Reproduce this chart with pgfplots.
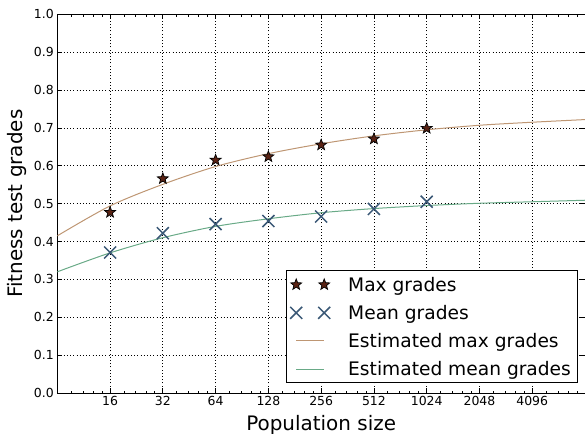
\documentclass[border=0pt]{standalone}
\usepackage{fontspec}
\setmainfont{DejaVu Sans}
\usepackage{pgfplots}
\pgfplotsset{compat=1.18}
\definecolor{starfill}{RGB}{90,35,20}
\definecolor{meanx}{RGB}{58,88,118}
\definecolor{maxline}{RGB}{190,150,115}
\definecolor{meanline}{RGB}{105,170,135}
\pgfdeclareplotmark{fstar}{%
  \pgfpathmoveto{\pgfpointpolar{90}{\pgfplotmarksize}}%
  \pgfpathlineto{\pgfpointpolar{126}{0.42\pgfplotmarksize}}%
  \pgfpathlineto{\pgfpointpolar{162}{\pgfplotmarksize}}%
  \pgfpathlineto{\pgfpointpolar{198}{0.42\pgfplotmarksize}}%
  \pgfpathlineto{\pgfpointpolar{234}{\pgfplotmarksize}}%
  \pgfpathlineto{\pgfpointpolar{270}{0.42\pgfplotmarksize}}%
  \pgfpathlineto{\pgfpointpolar{306}{\pgfplotmarksize}}%
  \pgfpathlineto{\pgfpointpolar{342}{0.42\pgfplotmarksize}}%
  \pgfpathlineto{\pgfpointpolar{18}{\pgfplotmarksize}}%
  \pgfpathlineto{\pgfpointpolar{54}{0.42\pgfplotmarksize}}%
  \pgfpathclose
  \pgfusepathqfillstroke}
\pgfplotsset{
  legtwo/.style={legend image code/.code={\draw[##1] plot coordinates {(0bp,0bp) (28bp,0bp)};}},
  maxstyle/.style={only marks, mark=fstar, mark size=5.8bp, line width=0.7bp, mark options={fill=starfill, draw=black, solid}},
  meanstyle/.style={only marks, mark=x, mark size=8.5bp, line width=1.5bp, color=meanx, mark options={solid}},
  emaxstyle/.style={no marks, color=maxline, line width=1bp},
  emeanstyle/.style={no marks, color=meanline, line width=1bp},
}
\pgfplotstableread{
x y
16 0.477
32 0.566
64 0.615
128 0.624
256 0.655
512 0.671
1024 0.699
}\maxdata
\pgfplotstableread{
x y
16 0.371
32 0.422
64 0.446
128 0.454
256 0.466
512 0.486
1024 0.505
}\meandata
\pgfplotstableread{
x y
8 0.415
16 0.494
32 0.551
64 0.598
128 0.632
256 0.658
512 0.679
1024 0.695
2048 0.707
4096 0.715
8192 0.722
}\emaxdata
\pgfplotstableread{
x y
8 0.320
16 0.370
32 0.410
64 0.440
128 0.460
256 0.476
512 0.487
1024 0.495
2048 0.501
4096 0.505
8192 0.509
}\emeandata
\begin{document}
\begin{tikzpicture}
\begin{axis}[
  scale only axis, width=527.7bp, height=378.7bp,
  xmode=log, log basis x=2, xmin=8, xmax=8192, ymin=0, ymax=1,
  xtick={16,32,64,128,256,512,1024,2048,4096},
  xticklabels={16,32,64,128,256,512,1024,2048,4096},
  minor xtick={},
  extra x ticks={9.6,11.2,12.8,14.4,19.2,22.4,25.6,28.8,38.4,44.8,51.2,57.6,76.8,89.6,102.4,115.2,153.6,179.2,204.8,230.4,307.2,358.4,409.6,460.8,614.4,716.8,819.2,921.6,1228.8,1433.6,1638.4,1843.2,2457.6,2867.2,3276.8,3686.4,4915.2,5734.4,6553.6,7372.8},
  extra x tick labels={},
  extra x tick style={grid=none, major tick length=2.5bp},
  ytick={0,0.1,0.2,0.3,0.4,0.5,0.6,0.7,0.8,0.9,1.0},
  yticklabel style={/pgf/number format/.cd, fixed, fixed zerofill, precision=1, assume math mode=true},
  tick label style={font=\fontsize{12.5}{14}\selectfont},
  grid=major, major grid style={black, line width=0.7bp, dash pattern=on 1bp off 2.2bp},
  tick align=inside, major tick length=5bp,
  every tick/.style={black, line width=0.7bp},
  axis line style={line width=1bp},
  xlabel={Population size}, ylabel={Fitness test grades},
  label style={font=\fontsize{20}{24}\selectfont},
  xlabel style={yshift=-2.5bp},
  legend style={at={(1,0)}, anchor=south east, xshift=-7.7bp, yshift=9.7bp, draw=black, line width=0.8bp,
    font=\fontsize{18.7}{22}\selectfont, inner xsep=4bp, inner ysep=4bp, row sep=8.5bp,
    /tikz/every odd column/.append style={column sep=16bp}},
  legend cell align=left,
]
\addlegendimage{maxstyle, legtwo}\addlegendentry{Max grades}
\addlegendimage{meanstyle, legtwo}\addlegendentry{Mean grades}
\addlegendimage{emaxstyle, legtwo}\addlegendentry{Estimated max grades}
\addlegendimage{emeanstyle, legtwo}\addlegendentry{Estimated mean grades}
\addplot[emaxstyle, smooth, forget plot] table {\emaxdata};
\addplot[emeanstyle, smooth, forget plot] table {\emeandata};
\addplot[maxstyle, forget plot] table {\maxdata};
\addplot[meanstyle, forget plot] table {\meandata};
\end{axis}
\pgfresetboundingbox
\path (current axis.south west) ++(-57.3bp,-41bp) rectangle ([yshift=14.3bp]current axis.north east);
\end{tikzpicture}
\end{document}
